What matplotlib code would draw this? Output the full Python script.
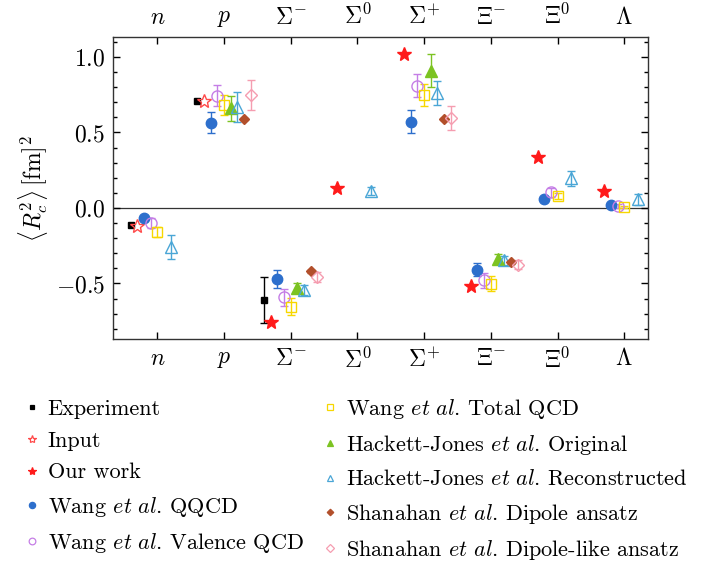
import numpy as np
import matplotlib
matplotlib.use("Agg")
import matplotlib.pyplot as plt
from matplotlib.lines import Line2D

plt.rcParams["font.family"] = "serif"
plt.rcParams["font.serif"] = ["cmr10", "DejaVu Serif"]
plt.rcParams["mathtext.fontset"] = "cm"
plt.rcParams["axes.formatter.use_mathtext"] = True
plt.rcParams["axes.unicode_minus"] = True

nan = np.nan

# Baryons along the x axis
categories = [r"$n$", r"$p$", r"$\Sigma^{-}$", r"$\Sigma^{0}$", r"$\Sigma^{+}$",
              r"$\Xi^{-}$", r"$\Xi^{0}$", r"$\Lambda$"]

# Charge radii squared <R_c^2> [fm^2] and their uncertainties (0 = no error bar)
experiment = [-0.116, 0.707, -0.61, nan, nan, nan, nan, nan]
experiment_err = [0.0, 0.0, 0.15, 0, 0, 0, 0, 0]

input_vals = [-0.12, 0.707, nan, nan, nan, nan, nan, nan]
input_err = [0, 0, 0, 0, 0, 0, 0, 0]

our_work = [nan, nan, -0.755, 0.13, 1.02, -0.515, 0.34, 0.113]
our_work_err = [0, 0, 0, 0, 0, 0, 0, 0]

wang_qqcd = [-0.064, 0.565, -0.472, nan, 0.572, -0.409, 0.057, 0.018]
wang_qqcd_err = [0.02, 0.068, 0.058, 0, 0.078, 0.044, 0.012, 0.008]

wang_valence = [-0.10, 0.742, -0.592, nan, 0.81, -0.479, 0.104, 0.013]
wang_valence_err = [0.033, 0.07, 0.057, 0, 0.075, 0.049, 0.03, 0.01]

wang_total = [-0.159, 0.682, -0.653, nan, 0.75, -0.501, 0.08, 0.007]
wang_total_err = [0.033, 0.066, 0.057, 0, 0.073, 0.05, 0.02, 0.008]

hj_original = [nan, 0.66, -0.528, nan, 0.909, -0.336, nan, nan]
hj_original_err = [0, 0.083, 0.03, 0, 0.11, 0.029, 0, 0]

hj_reconstructed = [-0.26, 0.667, -0.543, 0.11, 0.76, -0.347, 0.197, 0.057]
hj_reconstructed_err = [0.08, 0.1, 0.033, 0.026, 0.08, 0.031, 0.05, 0.035]

shanahan_dipole = [nan, 0.59, -0.42, nan, 0.59, -0.36, nan, nan]
shanahan_dipole_err = [0, 0.008, 0.008, 0, 0.008, 0.008, 0, 0]

shanahan_dipole_like = [nan, 0.748, -0.459, nan, 0.598, -0.377, nan, nan]
shanahan_dipole_like_err = [0, 0.1, 0.032, 0, 0.08, 0.03, 0, 0]

labels = [
    "Experiment",
    "Input",
    "Our work",
    r"Wang $\mathit{et\ al}$. QQCD",
    r"Wang $\mathit{et\ al}$. Valence QCD",
    r"Wang $\mathit{et\ al}$. Total QCD",
    r"Hackett-Jones $\mathit{et\ al}$. Original",
    r"Hackett-Jones $\mathit{et\ al}$. Reconstructed",
    r"Shanahan $\mathit{et\ al}$. Dipole ansatz",
    r"Shanahan $\mathit{et\ al}$. Dipole-like ansatz",
]
values = [experiment, input_vals, our_work, wang_qqcd, wang_valence, wang_total,
          hj_original, hj_reconstructed, shanahan_dipole, shanahan_dipole_like]
errors = [experiment_err, input_err, our_work_err, wang_qqcd_err, wang_valence_err,
          wang_total_err, hj_original_err, hj_reconstructed_err,
          shanahan_dipole_err, shanahan_dipole_like_err]

# Drawing style per series: (x shift, marker, colour, filled, marker size)
styles = [
    (-0.4, "s", "#000000", True, 5),
    (-0.3, "*", "#ff4a4a", False, 10),
    (-0.3, "*", "#ff1a1a", True, 10),
    (-0.2, "o", "#2d6fcc", True, 7.5),
    (-0.1, "o", "#c57ee6", False, 8),
    (0.0, "s", "#f7d700", False, 7),
    (0.1, "^", "#7cc322", True, 8),
    (0.2, "^", "#4aa6d6", False, 8),
    (0.3, "D", "#b24f2b", True, 5.5),
    (0.4, "D", "#f59db0", False, 6.5),
]

fig = plt.figure(figsize=(7.27, 5.63), dpi=100)
ax = fig.add_axes([0.1558, 0.3973, 0.7359, 0.5364])

xpos = np.arange(len(categories))
ax.axhline(0.0, color="#333333", lw=0.9, zorder=1)

handles = []
for vals, errs, (dx, mk, col, filled, ms), lab in zip(values, errors, styles, labels):
    v = np.array(vals, dtype=float)
    e = np.array(errs, dtype=float)
    face = col if filled else "none"
    pts = ~np.isnan(v)
    bars = pts & (e > 0)
    # error bars only where an uncertainty is given
    if bars.any():
        ax.errorbar(xpos[bars] + dx, v[bars], yerr=e[bars], fmt="none",
                    ecolor=col, elinewidth=1.0, capsize=3, capthick=1.0, zorder=2)
    ax.plot(xpos[pts] + dx, v[pts], ls="none", marker=mk, color=col,
            mfc=face, mec=col, ms=ms, mew=1.0, zorder=3)
    handles.append(Line2D([], [], ls="none", marker=mk, color=col,
                          mfc=face, mec=col, ms=ms * 0.6, mew=0.9))

ax.set_xlim(-0.66, 7.36)
ax.set_ylim(-0.87, 1.13)
ax.set_xticks(xpos)
ax.set_xticklabels(categories)
ax.set_yticks([-0.5, 0.0, 0.5, 1.0])
ax.set_yticks(np.arange(-0.8, 1.15, 0.1), minor=True)
ax.tick_params(axis="both", which="both", direction="in", top=True, right=True,
               labeltop=True, labelsize=17, width=1.0)
ax.tick_params(axis="both", which="major", length=5, pad=6)
ax.tick_params(axis="both", which="minor", length=3)
ax.tick_params(axis="x", which="minor", bottom=False, top=False)
for sp in ax.spines.values():
    sp.set_linewidth(1.0)
    sp.set_color("#333333")

ax.set_ylabel(r"$\langle R_c^2\rangle\,[\mathrm{fm}]^2$", fontsize=17, labelpad=4)

fig.legend(handles, labels, ncol=2, loc="upper left",
           bbox_to_anchor=(0.032, 0.295), frameon=False, fontsize=16,
           handlelength=0.8, handletextpad=0.3, columnspacing=0.8,
           labelspacing=0.55, borderpad=0.0, borderaxespad=0.0)

fig.savefig("out.png", dpi=100)
